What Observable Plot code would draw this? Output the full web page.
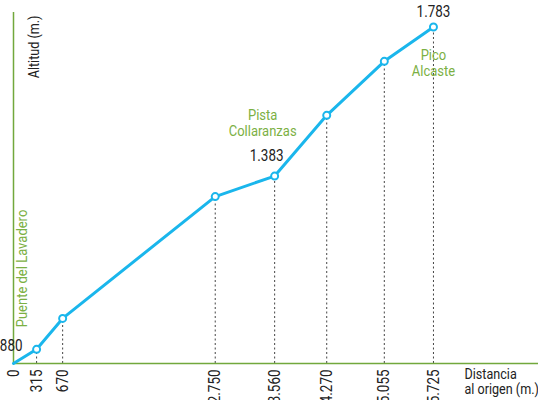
<!DOCTYPE html>
<html><head><meta charset="utf-8">
<script src="https://cdn.jsdelivr.net/npm/d3@7"></script>
<script src="https://cdn.jsdelivr.net/npm/@observablehq/plot@0.6"></script>
<style>
body{margin:0;background:#fff;}
#chart{width:538px;height:400px;overflow:hidden;}
</style>
</head><body><div id="chart"></div>
<script>
const distances = [0, 315, 670, 2750, 3560, 4270, 5055, 5725];
const altitudes = [880, 918, 1001, 1328, 1383, 1546, 1691, 1783];
const tickLabels = ["0", "315", "670", "2.750", "3.560", "4.270", "5.055", "5.725"];

const pts = distances.map((d, i) => ({dist: d, alt: altitudes[i], label: tickLabels[i]}));
const font = "Roboto, 'Noto Sans', sans-serif";
const cyan = "#1ab6ec", green = "#72a83c", gtext = "#7bb043";

const chart = Plot.plot({
  width: 538, height: 400,
  marginLeft: 13, marginRight: 0, marginTop: 12, marginBottom: 37,
  x: {domain: [0, 7157], axis: null},
  y: {domain: [880, 1822], axis: null},
  style: {fontFamily: font, fontSize: "16px", background: "white", overflow: "visible"},
  marks: [
    Plot.ruleX(pts.slice(1), {x: "dist", y1: 880, y2: "alt", stroke: "#444", strokeDasharray: "2,2.5", strokeWidth: 1}),
    Plot.ruleX([0], {stroke: green, strokeWidth: 1.5}),
    Plot.ruleY([880], {stroke: green, strokeWidth: 1.5}),
    Plot.line(pts, {x: "dist", y: "alt", stroke: cyan, strokeWidth: 3}),
    Plot.dot(pts.slice(1), {x: "dist", y: "alt", r: 3.5, fill: "white", stroke: cyan, strokeWidth: 2}),
    Plot.text(pts, {x: "dist", y: 880, text: "label", rotate: -90, textAnchor: "end", dy: 6, fill: "#222", fontSize: 16}),
    Plot.text([pts[0]], {x: "dist", y: "alt", text: d => "880", textAnchor: "end", dx: 9, dy: -18, fill: "#222", fontSize: 16}),
    Plot.text([pts[4]], {x: "dist", y: "alt", text: d => "1.383", dx: -8, dy: -20, fill: "#222", fontSize: 16}),
    Plot.text([pts[7]], {x: "dist", y: "alt", text: d => "1.783", dx: 0, dy: -15, fill: "#222", fontSize: 16}),
    Plot.text([pts[4]], {x: "dist", y: "alt", text: d => "Pista\nCollaranzas", dx: -12, dy: -53, fill: gtext, fontSize: 15.5, lineHeight: 1.05}),
    Plot.text([pts[7]], {x: "dist", y: "alt", text: d => "Pico\nAlcaste", dx: 0, dy: 36, fill: gtext, fontSize: 15.5, lineHeight: 1.05}),
    Plot.text([pts[0]], {x: "dist", y: "alt", text: d => "Puente del Lavadero", rotate: -90, textAnchor: "middle", dx: 9, dy: -95, fill: gtext, fontSize: 15.5}),
    Plot.text(["Altitud (m.)"], {frameAnchor: "top-left", text: d => d, rotate: -90, textAnchor: "end", dx: 15, dy: 3, fill: "#222", fontSize: 15}),
    Plot.text(["Distancia\nal origen (m.)"], {frameAnchor: "bottom-right", text: d => d, textAnchor: "start", lineAnchor: "top", dx: -74, dy: 5, fill: "#222", fontSize: 15, lineHeight: 1.0})
  ]
});
// condense glyphs along the text direction
d3.select(chart).selectAll("text").each(function() {
  const t = this.getAttribute("transform");
  if (t) this.setAttribute("transform", t + " scale(0.84,1)");
  else {
    const x = +this.getAttribute("x") || 0, y = +this.getAttribute("y") || 0;
    this.setAttribute("transform", `translate(${x},${y}) scale(0.84,1) translate(${-x},${-y})`);
  }
});
document.getElementById("chart").append(chart);
</script>
</body></html>
